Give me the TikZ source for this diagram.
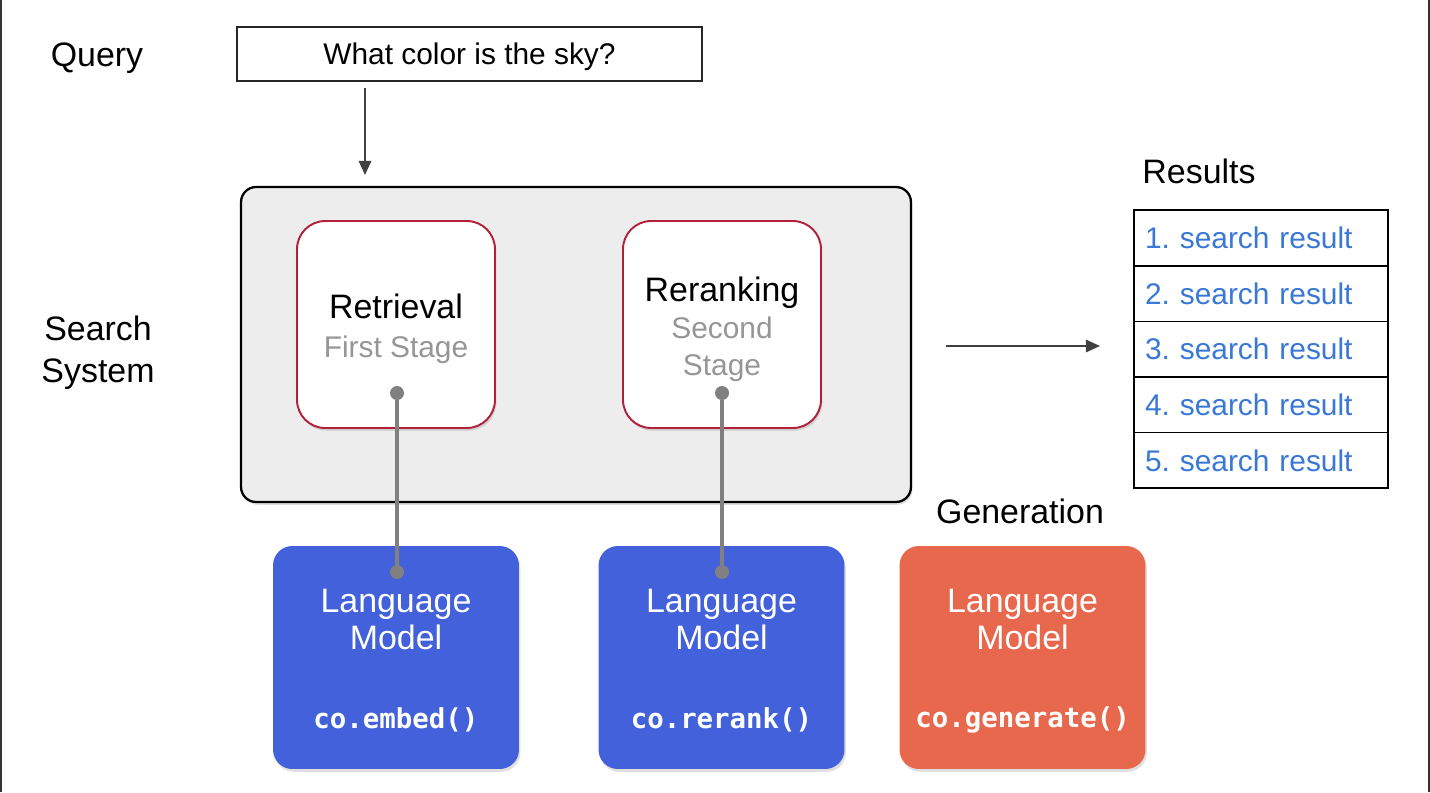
\documentclass[tikz,border=0pt]{standalone}
\usepackage{fontspec}
\setmainfont{Liberation Sans}
\setmonofont{DejaVu Sans Mono}
\usepackage{tikz}
\usetikzlibrary{arrows.meta,shadows}
\definecolor{lmblue}{RGB}{66,97,218}
\definecolor{lmorange}{RGB}{232,104,78}
\definecolor{stagered}{RGB}{178,32,58}
\definecolor{sysgray}{RGB}{237,237,237}
\definecolor{subgray}{RGB}{150,150,150}
\definecolor{resblue}{RGB}{58,120,216}
\definecolor{wiregray}{RGB}{128,128,128}
\frenchspacing

\begin{document}
\begin{tikzpicture}[x=0.02cm,y=-0.02cm,
  big/.style={font=\fontsize{19.3}{24}\selectfont, align=center},
  small/.style={font=\fontsize{17}{21}\selectfont, align=center},
  shade/.style={drop shadow={shadow xshift=0.8pt,shadow yshift=-1.6pt,opacity=0.25}},
  stage/.style={draw=stagered, line width=1.1pt, fill=white, rounded corners=16pt, inner sep=0pt, minimum width=3.96cm, minimum height=4.14cm, shade},
  lmbox/.style={rounded corners=11pt, inner sep=0pt, minimum width=4.92cm, minimum height=4.46cm, shade},
  lmtext/.style={big, text=white, font=\fontsize{19.3}{21.6}\selectfont},
  code/.style={text=white, font=\ttfamily\bfseries\fontsize{15.6}{20}\selectfont},
  dot/.style={circle, fill=wiregray, inner sep=0pt, minimum size=0.28cm},
  row/.style={draw=black, line width=0.9pt, inner xsep=0.22cm, inner ysep=0pt, text width=4.64cm, minimum height=1.112cm, align=left, text=resblue, font=\fontsize{17}{20}\selectfont}]
\useasboundingbox (0,0) rectangle (1430,792);
\fill[white] (0,0) rectangle (1430,792);
\draw[black!80, line width=1.2pt] (1,0) -- (1,792);
\draw[black!80, line width=1.2pt] (1429,0) -- (1429,792);
% query
\node[big] (q) at (97,58) {Query};
\node[draw=black!85, line width=0.9pt, minimum width=9.3cm, minimum height=1.08cm, text depth=0pt, small] (qbox) at (469.5,54) {What color is the sky?};
\coordinate (qout) at (365,88);
\coordinate (qin) at (365,175);
\draw[black!75, line width=1.2pt, -{Triangle[length=8pt,width=7pt]}] (qout) -- (qin);
% search system
\node[big, font=\fontsize{19.3}{23.8}\selectfont] (s) at (98,353) {Search\\System};
\node[draw=black, line width=1.3pt, fill=sysgray, rounded corners=8.5pt, minimum width=13.4cm, minimum height=6.3cm, shade] (sys) at (576,344.5) {};
\node[stage] (1) at (396,324.5) {};
\node[stage] (2) at (722,324.5) {};
\node[big, font=\fontsize{19.3}{22}\selectfont] at (396,329) {Retrieval\\\textcolor{subgray}{\fontsize{17}{22}\selectfont First Stage}};
\node[big, font=\fontsize{19.3}{21}\selectfont] at (722,329) {Reranking\\\textcolor{subgray}{\fontsize{17}{20.5}\selectfont Second}\\\textcolor{subgray}{\fontsize{17}{20.5}\selectfont Stage}};
% language models
\node[lmbox, fill=lmblue] (3) at (396,657.5) {};
\node[lmbox, fill=lmblue] (4) at (721.5,657.5) {};
\node[lmbox, fill=lmorange] (5) at (1022.5,657.5) {};
\node[lmtext] at (396,619.5) {Language\\Model};
\node[lmtext] at (721.5,619.5) {Language\\Model};
\node[lmtext] at (1022.5,619.5) {Language\\Model};
\node[code] at (396,720) {co.embed()};
\node[code] at (721.5,720) {co.rerank()};
\node[code] at (1022.5,720) {co.generate()};
\node[big] (g) at (1020,511) {Generation};
% wires
\node[dot] (d1) at (397,393) {};
\node[dot] (d2) at (722,393) {};
\node[dot] (d3) at (397,572) {};
\node[dot] (d4) at (722,572) {};
\draw[wiregray, line width=2.3pt] (d1) -- (d3);
\draw[wiregray, line width=2.3pt] (d2) -- (d4);
% results
\coordinate (a) at (946,346);
\coordinate (b) at (1100,346);
\draw[black!75, line width=1.2pt, -{Triangle[length=8pt,width=7pt]}] (a) -- (b);
\node[big] (r) at (1199,171) {Results};
\node[row] (r1) at (1261,238) {1. search result};
\node[row] (r2) at (1261,293.6) {2. search result};
\node[row] (r3) at (1261,349.2) {3. search result};
\node[row] (r4) at (1261,404.8) {4. search result};
\node[row] (r5) at (1261,460.4) {5. search result};
\end{tikzpicture}
\end{document}
